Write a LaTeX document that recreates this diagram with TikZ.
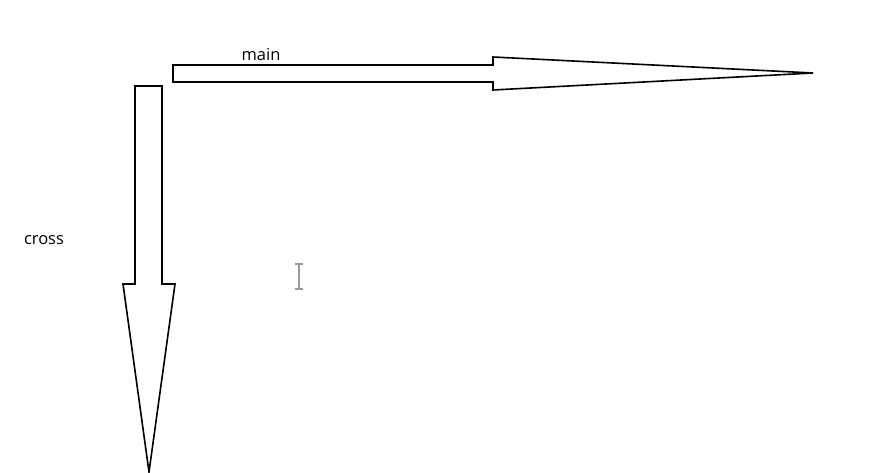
\documentclass[tikz,border=0pt]{standalone}
\usepackage{fontspec}
\setmainfont{Open Sans}
\begin{document}
\begin{tikzpicture}[x=1pt,y=-1pt,
  arrowshape/.style={draw=black,line width=1.6pt,line join=miter,fill=white},
  lbl/.style={font=\fontsize{16.5}{18}\selectfont,inner sep=0pt},
  cursorline/.style={draw=gray!80,line width=2pt}]
\useasboundingbox (0,0) rectangle (887,473);
% main arrow (horizontal)
\draw[arrowshape] (173,65) -- (493,65) -- (493,57) -- (813,73) -- (493,90) -- (493,82) -- (173,82) -- cycle;
% cross arrow (vertical)
\draw[arrowshape] (135,86) -- (162,86) -- (162,284) -- (175,284) -- (149,472) -- (123,284) -- (135,284) -- cycle;
\node[lbl,anchor=base] (main) at (261,61) {main};
\node[lbl,anchor=base] (cross) at (44,245) {cross};
% text cursor glyph
\draw[cursorline] (299,264) -- (299,289);
\draw[cursorline] (295,264) -- (303,264);
\draw[cursorline] (295,289) -- (303,289);
\end{tikzpicture}
\end{document}
